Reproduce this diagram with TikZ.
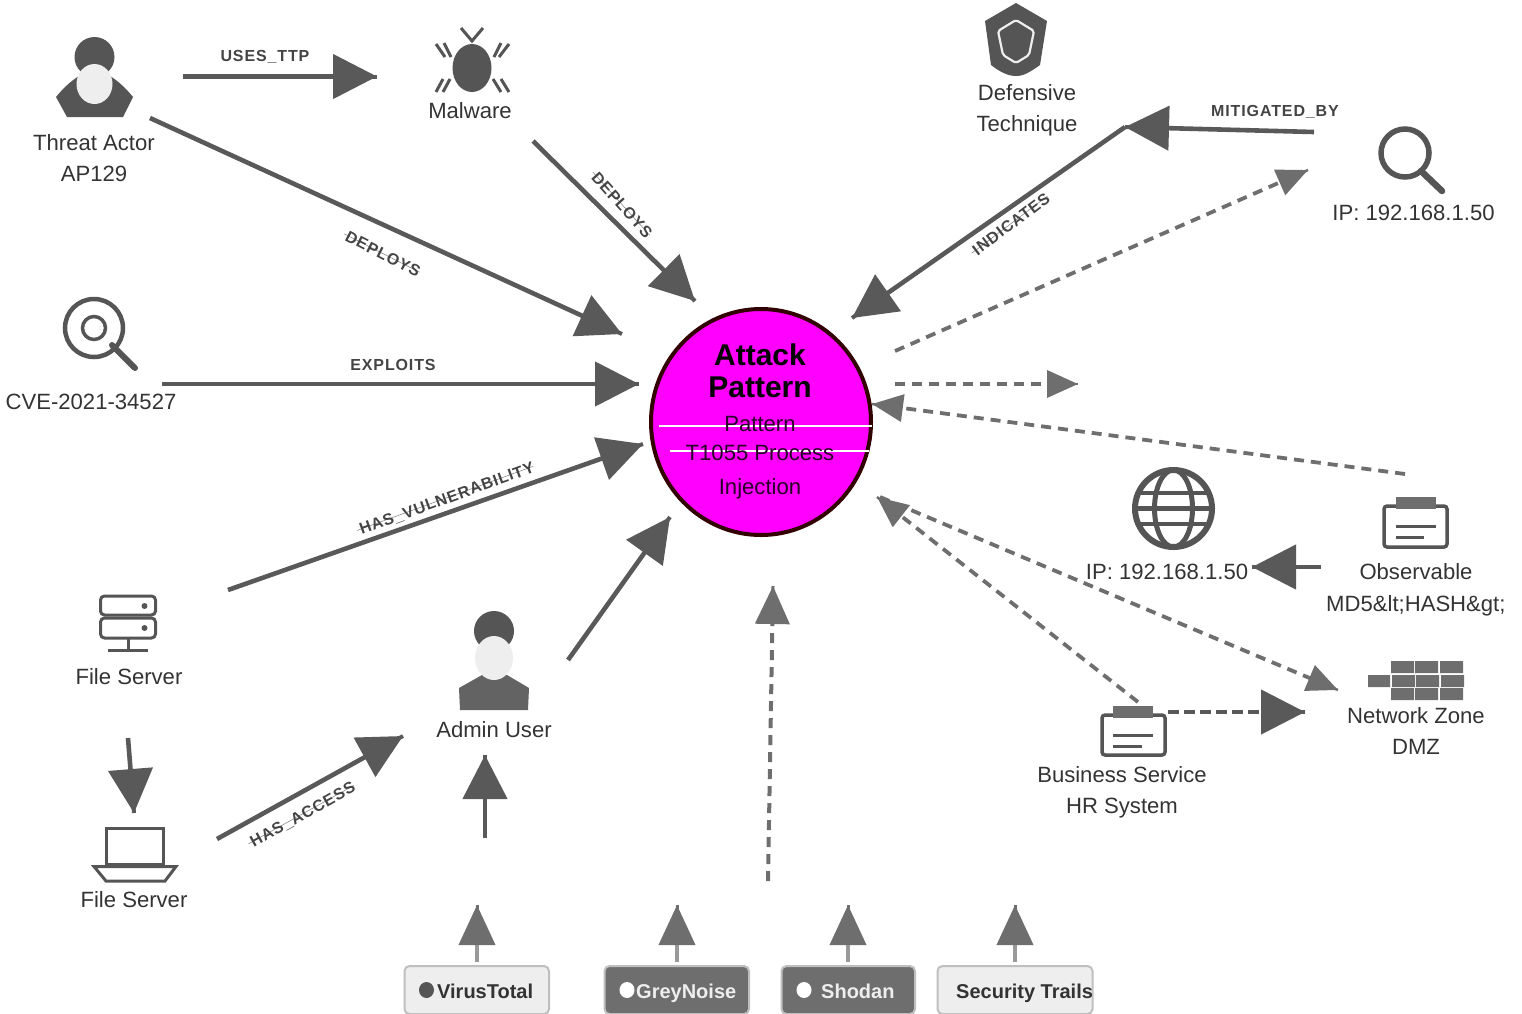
\documentclass[tikz,border=0pt]{standalone}
\usepackage{fontspec}
\setmainfont{Liberation Sans}
\usetikzlibrary{arrows.meta,calc,shapes.geometric}
\definecolor{dk}{HTML}{595959}
\definecolor{md}{HTML}{6E6E6E}
\definecolor{ico}{HTML}{555555}
\definecolor{txt}{HTML}{333333}
\definecolor{elab}{HTML}{444444}
\definecolor{lite}{HTML}{EEEEEE}
\definecolor{stemc}{HTML}{999999}
\definecolor{magc}{HTML}{FF00FF}
\definecolor{ringc}{HTML}{330000}
\newcommand\strk[1]{\setbox0\hbox{#1}\leavevmode\kern-3pt{\color{elab!70!white}\rule[5.6pt]{\dimexpr\wd0+3pt\relax}{0.5pt}}\kern-\wd0 \box0 }
% style, from, to, stub colour, stub width
\newcommand\conn[5]{\draw[#1] (#2) -- (#3); \draw[draw=#4,line width=#5] ($(#3)!14pt!(#2)$) -- (#3);}
\tikzset{
 lbl/.style={inner sep=0pt,text=txt,font=\fontsize{22.1}{31}\selectfont,align=center},
 elbl/.style={inner sep=0pt,text=elab,font=\fontsize{16}{18}\selectfont\bfseries\addfontfeature{LetterSpace=5.5}},
 solidedge/.style={draw=dk,line width=4.6pt,-{Triangle[length=44pt,width=44pt]}},
 dashedge/.style={draw=md,line width=3.8pt,dash pattern=on 10pt off 7pt,-{Triangle[length=31pt,width=27pt]}},
 src/.style={draw=stemc,line width=4pt,-{Triangle[length=40pt,width=36pt,color=md]}},
 chip/.style={rounded corners=5pt,line width=2pt,draw=lightgray,minimum height=48pt,inner sep=0pt},
 chiptext/.style={inner sep=0pt,font=\fontsize{20}{22}\selectfont\bfseries,anchor=base west},
 ctext/.style={inner sep=0pt,font=\fontsize{22.1}{31}\selectfont,text=black!85!magc},
}
\begin{document}
\begin{tikzpicture}[x=1pt,y=-1pt]
\useasboundingbox (0,0) rectangle (1522,1013);
% free ends
\foreach \n/\x/\y in {
 a1/183/76.5,a2/377/76.5,b1/150/118,b2/622/334,c1/533/141,c2/695/301,d1/162/384,d2/639/384,
 e1/228/590,e2/643/444,f1/568/660,f2/670/517,g1/128/738,g2/134/813,h1/217/839,h2/403/736,
 i1/485/838,i2/485/755,j1/768/881,j2/773/586,k1/1125/127,k2/852/318,l1/1314/132,
 m1/895/351,m2/1308/170,n1/895/384,n2/1078/384,o1/1405/474,o2/872/404,
 p1/1321/567,p2/1252/567,q1/1138/702,q2/877/497,r1/880/497,r2/1338/690,s1/1168/712,s2/1305/712,
 t1/477/962,t2/477/905,u1/677/962,u2/677/905,v1/848/962,v2/848/905,w1/1015/962,w2/1015/905}
 {\coordinate (\n) at (\x,\y);}
% connectors
\conn{solidedge}{a1}{a2}{dk}{4pt}
\conn{solidedge}{b1}{b2}{dk}{4pt}
\conn{solidedge}{c1}{c2}{dk}{4pt}
\conn{solidedge}{d1}{d2}{dk}{4pt}
\conn{solidedge}{e1}{e2}{dk}{4pt}
\conn{solidedge}{f1}{f2}{dk}{4pt}
\conn{solidedge}{g1}{g2}{dk}{4pt}
\conn{solidedge}{h1}{h2}{dk}{4pt}
\conn{solidedge}{i1}{i2}{dk}{4pt}
\conn{solidedge}{k1}{k2}{dk}{4pt}
\conn{solidedge}{l1}{k1}{dk}{4pt}
\conn{solidedge}{p1}{p2}{dk}{4pt}
\conn{solidedge,dash pattern=on 11pt off 5pt}{s1}{s2}{dk}{4pt}
\conn{dashedge}{m1}{m2}{md}{2.5pt}
\conn{dashedge}{n1}{n2}{md}{2.5pt}
\conn{dashedge}{o1}{o2}{md}{2.5pt}
\conn{dashedge}{q1}{q2}{md}{2.5pt}
\conn{dashedge}{r1}{r2}{md}{2.5pt}
\conn{dashedge,-{Triangle[length=38pt,width=34pt]},line width=4pt}{j1}{j2}{md}{3pt}
\conn{src}{t1}{t2}{md}{3pt}
\conn{src}{u1}{u2}{md}{3pt}
\conn{src}{v1}{v2}{md}{3pt}
\conn{src}{w1}{w2}{md}{3pt}
% center
\node[ellipse,draw=ringc,fill=magc,line width=4pt,minimum width=220pt,minimum height=226pt,inner sep=0pt] (attack) at (761,422) {};
\draw[white,line width=2pt] (659,425.5) -- (872,425.5) (670,451) -- (869,451);
\node[inner sep=0pt,font=\fontsize{30}{31.5}\selectfont\bfseries,align=center,text=black] (attackt) at (760,371) {Attack\\Pattern};
\node[ctext] (attacks) at (760,424) {Pattern};
\node[ctext] (attackp) at (760,453) {T1055 Process};
\node[ctext] (attacki) at (760,488.5) {Injection};
% threat actor icon
\fill[ico] (67,117) -- (56,97) .. controls (64,87) and (73,79) .. (84,73) -- (105,73) .. controls (116,79) and (125,87) .. (133,97) -- (123,117) -- cycle;
\fill[ico] (94.5,57) circle (20);
\fill[lite] (94.5,84) ellipse (18 and 20);
\node[lbl] (actor) at (94,158) {Threat Actor\\AP129};
% malware
\fill[ico] (472,68) ellipse (19.5 and 24);
\draw[ico,line width=3pt] (461,28) -- (472,41) -- (483,28);
\draw[ico,line width=3pt] (436,44) -- (445,57) (444,43) -- (451,57)
 (509,44) -- (499,57) (501,43) -- (494,57)
 (450,79) -- (443,92) (443,79) -- (436,92)
 (493,79) -- (501,92) (501,79) -- (509,92);
\node[lbl] (malware) at (470,111) {Malware};
% cve
\draw[ico,line width=4.5pt] (94,328) circle (29);
\draw[ico,line width=3.5pt] (94,328) circle (11.5);
\draw[ico,line width=6pt,line cap=round] (112,345) -- (135,368);
\node[lbl] (cve) at (91,402) {CVE-2021-34527};
% server
\draw[ico,line width=3pt,rounded corners=4pt] (100.5,596) rectangle (155.5,615);
\draw[ico,line width=3pt,rounded corners=4pt] (100.5,618) rectangle (155.5,638);
\fill[ico] (144.5,606) circle (3) (144.5,628) circle (3);
\draw[ico,line width=3pt] (128,639) -- (128,650) (108,650.5) -- (148,650.5);
\node[lbl] (server) at (129,677) {File Server};
% laptop
\draw[ico,line width=3pt] (106.5,828.5) rectangle (163,864);
\draw[ico,line width=3pt] (94,866.5) -- (176,866.5) -- (165,881) -- (106,881) -- cycle;
\node[lbl] (laptop) at (134,900) {File Server};
% admin
\fill[ico] (494,631) circle (20);
\fill[md!90!black] (460,710) -- (459,688) -- (482,675) -- (507,675) -- (529,688) -- (528,710) -- cycle;
\fill[lite] (494,658) ellipse (19 and 22);
\node[lbl] (admin) at (494,730) {Admin User};
% shield
\fill[ico] (1016,3) -- (1047,21) -- (1040,65) .. controls (1030,72) and (1024,76) .. (1016,76) .. controls (1008,76) and (1000,72) .. (991,65) -- (985,21) -- cycle;
\draw[lite,line width=2.2pt,rounded corners=2pt] (1016,20) -- (1034,31) -- (1029,55) -- (1016,63) -- (1003,55) -- (998,31) -- cycle;
\node[lbl] (defense) at (1027,110) {Defensive\\Technique};
% magnifier
\draw[ico,line width=5.5pt] (1405,153) circle (24);
\draw[ico,line width=6.5pt,line cap=round] (1421,171) -- (1442,191);
\node[lbl] (ipa) at (1413.5,212.5) {IP: 192.168.1.50};
% globe
\draw[ico,line width=6pt] (1173.5,508.5) circle (38.5);
\draw[ico,line width=5pt] (1173.5,508.5) ellipse (19 and 38.5);
\draw[ico,line width=4.5pt] (1141,493) -- (1206,493) (1135,508.5) -- (1212,508.5) (1141,524) -- (1206,524);
\node[lbl] (ipb) at (1167,571.5) {IP: 192.168.1.50};
% observable
\draw[ico,line width=3.5pt,rounded corners=3pt] (1384,506) rectangle (1447,547);
\fill[md] (1396,497) rectangle (1436,509);
\draw[ico,line width=3pt] (1396,526) -- (1436,526) (1396,537) -- (1424,537);
\node[lbl] (obsa) at (1416,571.5) {Observable};
\begin{scope}
\clip (1300,585) rectangle (1503,625);
\node[lbl,anchor=west] (obsb) at (1326,606) {MD5\&lt;HASH\&gt;};
\end{scope}
% firewall
\fill[md] (1391,661) rectangle (1414,673) (1415,661) rectangle (1438,673) (1440,661) rectangle (1463,673)
 (1368,675) rectangle (1390,687) (1392,675) rectangle (1415,687) (1416,675) rectangle (1439,687) (1441,675) rectangle (1464,687)
 (1391,688) rectangle (1414,700) (1415,688) rectangle (1438,700) (1440,688) rectangle (1463,700);
\node[lbl] (zone) at (1416,731) {Network Zone\\DMZ};
% business
\draw[ico,line width=3.5pt,rounded corners=3pt] (1102,715) rectangle (1165,755);
\fill[md] (1113,706) rectangle (1153,718);
\draw[ico,line width=3pt] (1113,735) -- (1153,735) (1113,746) -- (1142,746);
\node[lbl] (biz) at (1122,792) {Business Service\\HR System};
% edge labels
\node[elbl] (l1) at (265,57) {USES\_TTP};
\node[elbl,rotate=-27] (l2) at (383,254) {\strk{DEPLOYS}};
\node[elbl,rotate=-48] (l3) at (622,205) {\strk{DEPLOYS}};
\node[elbl] (l4) at (393,365) {EXPLOITS};
\node[elbl,rotate=20] (l5) at (447,499) {\strk{HAS\_VULNERABILITY}};
\node[elbl,rotate=29] (l6) at (303,815) {\strk{HAS\_ACCESS}};
\node[elbl,rotate=37] (l7) at (1011,224) {\strk{INDICATES}};
\node[elbl] (l8) at (1275,112) {MITIGATED\_BY};
% feed chips
\node[chip,fill=lite,minimum width=144.5pt] (vt) at (476.75,990) {};
\node[chip,fill=md,minimum width=144.5pt] (gn) at (676.75,990) {};
\node[chip,fill=md,minimum width=133.5pt] (sh) at (848.25,990) {};
\node[chip,fill=lite,minimum width=155pt] (st) at (1015,990) {};
\fill[ico] (426.5,990) ellipse (7.5 and 8);
\fill[white] (627,990) ellipse (7.5 and 8) (804,990) ellipse (7.5 and 8);
\node[chiptext,text=txt] (vtt) at (437,998) {VirusTotal};
\node[chiptext,text=lite] (gnt) at (636,998) {GreyNoise};
\node[chiptext,text=lite] (sht) at (821,998) {Shodan};
\node[chiptext,text=txt] (stt) at (956,998) {Security Trails};
\end{tikzpicture}
\end{document}
